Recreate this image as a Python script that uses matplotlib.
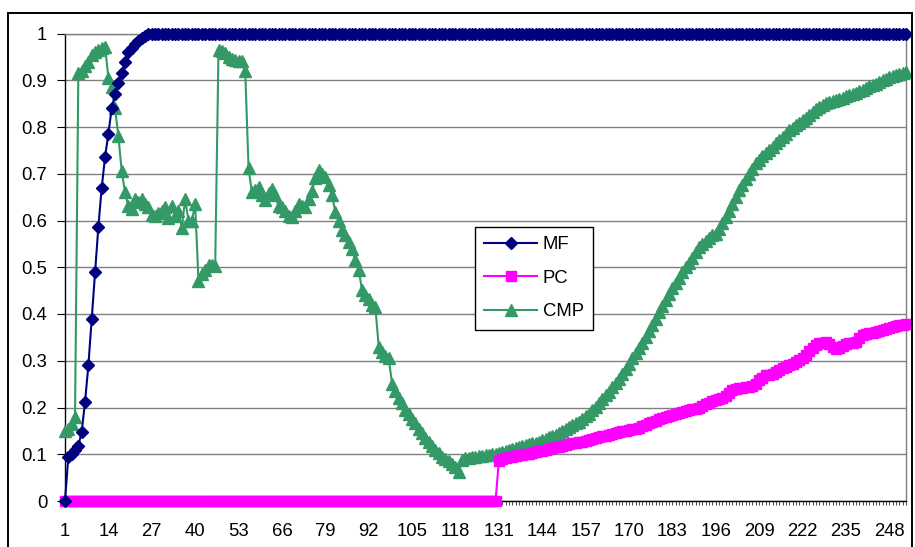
import numpy as np
import matplotlib.pyplot as plt
from matplotlib.patches import Rectangle

plt.rcParams['font.family'] = ['Liberation Sans', 'DejaVu Sans']

# ---- data (one value per category, 1..253) ----
mf_rise = [0.0, 0.095, 0.10, 0.11, 0.118, 0.148, 0.212, 0.29, 0.39, 0.49,
           0.587, 0.67, 0.736, 0.786, 0.84, 0.87, 0.895, 0.915, 0.94, 0.96,
           0.97, 0.978, 0.985, 0.99, 0.995, 1.0]
mf_flat = [1.0] * 227          # stays at 1 to the end

pc_flat = [0.0] * 130          # zero up to category 130
pc_rise = [0.085, 0.09, 0.092, 0.094, 0.095, 0.097, 0.098, 0.099, 0.10, 0.101,
           0.102, 0.104, 0.106, 0.108, 0.11, 0.112, 0.113, 0.115, 0.116, 0.118,
           0.12, 0.122, 0.124, 0.125, 0.126, 0.127, 0.129, 0.131, 0.133, 0.135,
           0.136, 0.138, 0.14, 0.141, 0.143, 0.145, 0.147, 0.149, 0.15, 0.152,
           0.153, 0.155, 0.157, 0.16, 0.163, 0.166, 0.169, 0.172, 0.175, 0.177,
           0.179, 0.181, 0.184, 0.186, 0.188, 0.191, 0.193, 0.195, 0.196, 0.197,
           0.199, 0.203, 0.207, 0.21, 0.213, 0.216, 0.218, 0.22, 0.225, 0.232,
           0.237, 0.24, 0.241, 0.242, 0.243, 0.244, 0.246, 0.25, 0.258, 0.264,
           0.269, 0.27, 0.272, 0.276, 0.28, 0.284, 0.287, 0.29, 0.294, 0.298,
           0.302, 0.305, 0.312, 0.32, 0.328, 0.333, 0.337, 0.339, 0.34, 0.336,
           0.33, 0.326, 0.328, 0.332, 0.335, 0.337, 0.338, 0.34, 0.348, 0.355,
           0.357, 0.359, 0.36, 0.362, 0.364, 0.365, 0.367, 0.37, 0.372, 0.374,
           0.376, 0.377, 0.378]

cmp_first = [0.15, 0.155, 0.165, 0.18, 0.915, 0.92, 0.93, 0.94, 0.955, 0.96,
             0.965, 0.968, 0.972, 0.905, 0.885, 0.84, 0.78, 0.705, 0.66, 0.63,
             0.625, 0.645, 0.64, 0.645, 0.635, 0.628, 0.612, 0.61, 0.615, 0.62,
             0.628, 0.605, 0.632, 0.61, 0.62, 0.585, 0.645, 0.60, 0.60, 0.635,
             0.47, 0.485, 0.495, 0.505, 0.505, 0.502, 0.965, 0.962, 0.958, 0.95,
             0.946, 0.943, 0.942, 0.942, 0.92, 0.712, 0.66, 0.665, 0.672, 0.655,
             0.643, 0.658, 0.668, 0.655, 0.63, 0.628, 0.62, 0.61, 0.607, 0.62,
             0.636, 0.63, 0.628, 0.645, 0.664, 0.69, 0.708, 0.70, 0.693, 0.675,
             0.655, 0.618, 0.60, 0.58, 0.568, 0.555, 0.54, 0.515, 0.495, 0.451,
             0.44, 0.432, 0.42, 0.415, 0.33, 0.318, 0.31, 0.305, 0.251, 0.235,
             0.22, 0.209, 0.195, 0.187, 0.175, 0.166, 0.155, 0.145, 0.135, 0.127,
             0.118, 0.109, 0.102, 0.095, 0.09, 0.086, 0.08, 0.072, 0.063]
cmp_second = [0.088, 0.092, 0.093, 0.094, 0.095, 0.096, 0.097, 0.098, 0.099, 0.10,
              0.101, 0.103, 0.105, 0.108, 0.11, 0.112, 0.114, 0.116, 0.118, 0.12,
              0.121, 0.123, 0.125, 0.127, 0.13, 0.133, 0.136, 0.139, 0.142, 0.146,
              0.15, 0.154, 0.158, 0.162, 0.166, 0.17, 0.175, 0.181, 0.187, 0.194,
              0.202, 0.21, 0.218, 0.226, 0.234, 0.243, 0.252, 0.262, 0.272, 0.283,
              0.294, 0.305, 0.316, 0.327, 0.338, 0.35, 0.363, 0.377, 0.39, 0.404,
              0.417, 0.43, 0.443, 0.455, 0.467, 0.478, 0.49, 0.50, 0.51, 0.52,
              0.532, 0.543, 0.55, 0.556, 0.562, 0.568, 0.572, 0.582, 0.595, 0.607,
              0.621, 0.636, 0.65, 0.665, 0.677, 0.689, 0.70, 0.711, 0.722, 0.73,
              0.737, 0.744, 0.751, 0.757, 0.765, 0.772, 0.779, 0.786, 0.793, 0.798,
              0.804, 0.809, 0.814, 0.82, 0.826, 0.832, 0.838, 0.843, 0.848, 0.851,
              0.854, 0.856, 0.858, 0.86, 0.863, 0.866, 0.868, 0.87, 0.872, 0.876,
              0.88, 0.884, 0.887, 0.889, 0.892, 0.896, 0.9, 0.903, 0.907, 0.909,
              0.911, 0.913, 0.916, 0.918]

mf = np.array(mf_rise + mf_flat)
pc = np.array(pc_flat + pc_rise)
cmp_ = np.array(cmp_first + cmp_second)
x = np.arange(1, len(mf) + 1)

y_ticks = [0, 0.1, 0.2, 0.3, 0.4, 0.5, 0.6, 0.7, 0.8, 0.9, 1]
label_every = 13

# ---- figure ----
W, H = 915, 547
fig = plt.figure(figsize=(W / 100, H / 100), dpi=100)
ax = fig.add_axes([65 / W, 1 - 501 / H, (906 - 65) / W, (501 - 33.5) / H])

fs = 13.3
line_cmp, = ax.plot(x, cmp_, color='#339966', lw=1.5, marker='^', ms=8.5,
                    mec='#339966', mew=1, clip_on=False, zorder=3, label='CMP')
line_pc, = ax.plot(x, pc, color='#FF00FF', lw=1.5, marker='s', ms=7,
                   mec='#FF00FF', mew=1, clip_on=False, zorder=4, label='PC')
line_mf, = ax.plot(x, mf, color='#000080', lw=1.5, marker='D', ms=6.5,
                   mec='#000080', mew=1, clip_on=False, zorder=5, label='MF')

ax.set_xlim(1, len(x))
ax.set_ylim(0, 1)

ax.set_yticks(y_ticks)
ax.set_yticklabels([f'{v:g}' for v in y_ticks], fontsize=fs)
ax.set_xticks(x)
ax.set_xticklabels([str(i) if (i - 1) % label_every == 0 else '' for i in x],
                   fontsize=fs)
ax.tick_params(axis='y', length=5.8, width=0.8, pad=7, direction='out')
ax.tick_params(axis='x', length=3, width=0.5, pad=13, direction='out')

ax.grid(axis='y', color='#808080', lw=1.0)
ax.set_axisbelow(True)
for s in ['left', 'bottom']:
    ax.spines[s].set_color('black')
    ax.spines[s].set_linewidth(1.0)
for s in ['top', 'right']:
    ax.spines[s].set_color('#808080')
    ax.spines[s].set_linewidth(1.0)

leg = ax.legend(handles=[line_mf, line_pc, line_cmp], loc='upper left',
                bbox_to_anchor=(475 / W, 1 - 227 / H), bbox_transform=fig.transFigure,
                borderaxespad=0, fontsize=fs, numpoints=1, handlelength=2.86,
                handletextpad=0.3, labelspacing=0.9, borderpad=0.5,
                fancybox=False, framealpha=1, edgecolor='black')
leg.get_frame().set_linewidth(1.0)
leg.set_zorder(10)

# outer chart border
fig.patches.append(Rectangle((8 / W, -0.02), (912 - 8) / W, (547 - 13) / H + 0.02,
                             transform=fig.transFigure, fill=False,
                             edgecolor='black', lw=1.4))

fig.savefig('out.png', dpi=100)
